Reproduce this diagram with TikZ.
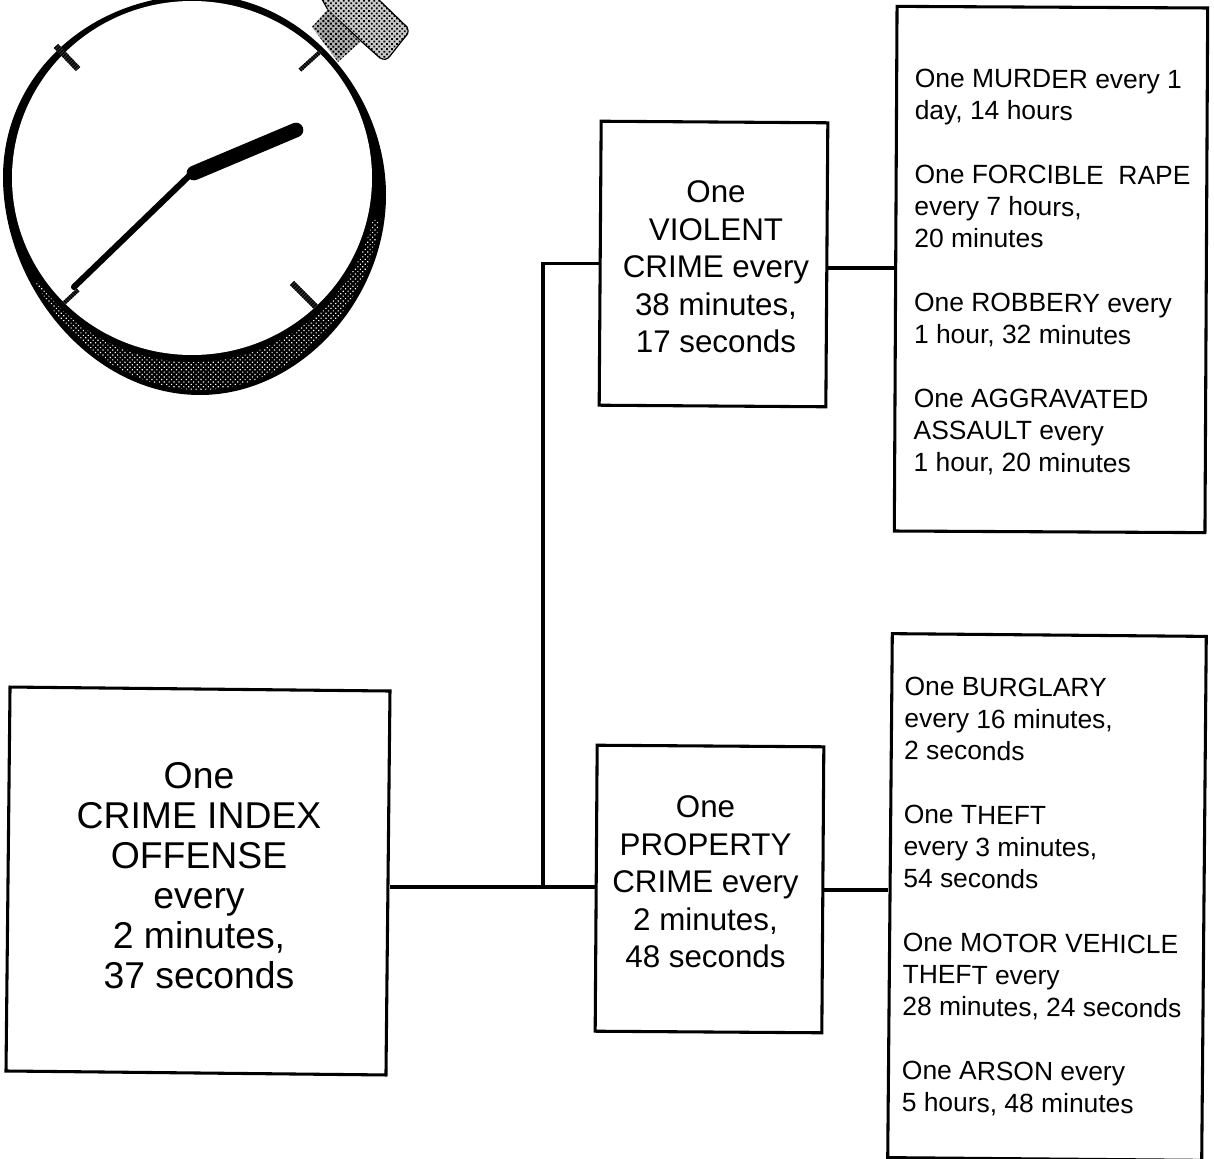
\documentclass[tikz,border=0pt]{standalone}
\usepackage{fontspec}
\setmainfont{Liberation Sans}
\usetikzlibrary{patterns.meta}
\newcommand{\outerring}{(3,177) .. controls (3,285) and (90,395) .. (200,395) .. controls (300,395) and (386,300) .. (386,195) .. controls (386,90) and (300,-5) .. (200,-5) .. controls (90,-5) and (3,75) .. (3,177) -- cycle}
\newcommand{\crownhead}{(318,-8) -- (328,10) -- (362,42) -- (380,58) .. controls (384,60) and (387,60) .. (390,56) -- (405,37) .. controls (408,34) and (409,32) .. (407,27) -- (377,-2) -- cycle}
\newcommand{\crownstem}{(312,27) -- (328,9) -- (360,42) -- (338,62) -- cycle}
\tikzset{
  x=0.75pt,y=-0.75pt,
  boxnode/.style={draw=black,line width=2.3pt,rectangle,inner sep=0pt,fill=white},
  bigtext/.style={align=center,inner sep=0pt,font=\fontsize{28}{30}\selectfont},
  midtext/.style={align=center,inner sep=0pt,font=\fontsize{23.5}{28.2}\selectfont},
  listtext/.style={align=left,inner sep=0pt,font=\fontsize{19.8}{24}\selectfont},
  wire/.style={draw=black,line width=2.3pt},
  tickmark/.style={draw=black!75,line width=4.5pt},
  tickhatch/.style={draw=black,line width=4.5pt,dash pattern=on 1pt off 0.8pt},
}
\begin{document}
\begin{tikzpicture}
\clip (0,0) rectangle (1214,1159);
\useasboundingbox (0,0) rectangle (1214,1159);
% crown
\path[draw=black,line width=0.9pt,fill=black!20] \crownhead;
\path[pattern={Dots[distance=2.7pt,radius=0.95pt,angle=45]},pattern color=black] \crownhead;
\path[fill=black!30] \crownstem;
\path[pattern={Dots[distance=2.7pt,radius=1.05pt,angle=45]},pattern color=black] \crownstem;
% ring
\fill[black] \outerring;
\begin{scope}
  \clip (30,285) -- (192,178) -- (384,222) -- (400,400) -- (0,400) -- cycle;
  \begin{scope}[shift={(197,190)},scale=0.975,shift={(-197,-190)}]
    \path[pattern={Dots[distance=2.6pt,radius=0.62pt,angle=45]},pattern color=white] \outerring;
  \end{scope}
\end{scope}
\fill[black] (192,180) ellipse [x radius=185,y radius=182];
\fill[white] (192,178) ellipse [x radius=180,y radius=177];
% ticks
\draw[tickmark] (56,46) -- (78,69);
\draw[tickhatch] (56,46) -- (78,69);
\draw[tickmark,line width=3pt] (300,70) -- (321,51);
\draw[tickhatch,line width=3pt] (300,70) -- (321,51);
\draw[tickmark] (292,283) -- (316,307);
\draw[tickhatch] (292,283) -- (316,307);
\draw[tickmark,line width=3pt] (63,304) -- (78,290);
\draw[tickhatch,line width=3pt] (63,304) -- (78,290);
% hands
\draw[black,line width=4.6pt,line cap=round] (190,175) -- (74,287);
\draw[black,line width=11pt,line cap=round] (194,173) -- (296,130);
% boxes
\node[boxnode,rotate=-0.6,minimum width=285pt,minimum height=288pt] (crime) at (198,881) {};
\node[boxnode,rotate=-0.4,minimum width=170pt,minimum height=213pt] (violent) at (713.5,264) {};
\node[boxnode,rotate=-0.4,minimum width=170pt,minimum height=214.5pt] (prop) at (709.5,889) {};
\node[boxnode,rotate=-0.3,minimum width=233pt,minimum height=393.5pt] (topr) at (1051,269.5) {};
\node[boxnode,rotate=-0.5,minimum width=235.5pt,minimum height=393pt] (botr) at (1047,897) {};
% connectors
\coordinate (junction) at (543,887);
\coordinate (vlink) at (860,268);
\coordinate (plink) at (860,890);
\draw[wire] (junction -| crime.east) -- (junction -| prop.west);
\draw[wire] (junction) |- (violent.west);
\draw[wire] (vlink -| violent.east) -- (vlink -| topr.west);
\draw[wire] (plink -| prop.east) -- (plink -| botr.west);
% texts
\node[bigtext] (crimetext) at (199,876) {One\\CRIME INDEX\\OFFENSE\\every\\2 minutes,\\37 seconds};
\node[midtext] (violenttext) at (716,267) {One\\VIOLENT\\CRIME every\\38 minutes,\\17 seconds};
\node[midtext] (proptext) at (705.5,882) {One\\PROPERTY\\CRIME every\\2 minutes,\\48 seconds};
\node[listtext,anchor=west,rotate=-0.2] (toprtext) at (914,272) {One MURDER every 1\\day, 14 hours\\[24pt]One FORCIBLE\ \ RAPE\\every 7 hours,\\20 minutes\\[24pt]One ROBBERY every\\1 hour, 32 minutes\\[24pt]One AGGRAVATED\\ASSAULT every\\1 hour, 20 minutes};
\node[listtext,anchor=west,rotate=-0.4] (botrtext) at (903,896) {One BURGLARY\\every 16 minutes,\\2 seconds\\[24pt]One THEFT\\every 3 minutes,\\54 seconds\\[24pt]One MOTOR VEHICLE\\THEFT every\\28 minutes, 24 seconds\\[24pt]One ARSON every\\5 hours, 48 minutes};
\end{tikzpicture}
\end{document}
